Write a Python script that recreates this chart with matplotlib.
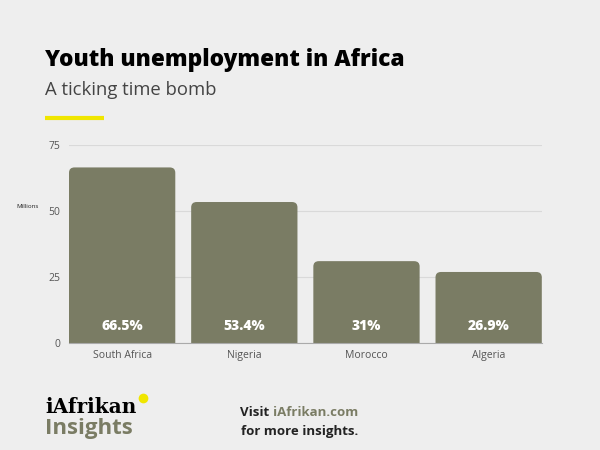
import matplotlib
matplotlib.use("Agg")
import matplotlib.pyplot as plt
from matplotlib.patches import FancyBboxPatch

# youth unemployment data
countries = ["South Africa", "Nigeria", "Morocco", "Algeria"]
rates = [66.5, 53.4, 31, 26.9]
rate_labels = ["66.5%", "53.4%", "31%", "26.9%"]
yticks = [0, 25, 50, 75]

BG = "#eeeeee"
BAR = "#7a7c64"

fig = plt.figure(figsize=(6, 4.5), dpi=100, facecolor=BG)
ax = fig.add_axes([0.115, 0.2378, 0.788, 0.44], facecolor=BG)

bars = ax.bar(range(len(countries)), rates, width=0.87, color=BAR, zorder=2)
# swap the plain bars for ones with rounded tops
for b in bars:
    x, y = b.get_x(), b.get_y()
    w, h = b.get_width(), b.get_height()
    b.set_visible(False)
    p = FancyBboxPatch((x, y - 5), w, h + 5, boxstyle="round,pad=0,rounding_size=0.045",
                       mutation_aspect=45, facecolor=BAR, edgecolor="none", zorder=2)
    ax.add_patch(p)

for i, lab in enumerate(rate_labels):
    ax.annotate(lab, (i, 0), xytext=(0, 12.5), textcoords="offset points",
                ha="center", va="center", color="white", fontsize=10,
                fontweight="heavy", family="Open Sans", zorder=3)

ax.set_xlim(-0.435, 3.435)
ax.set_ylim(0, 75)
ax.set_yticks(yticks)
ax.set_xticks(range(len(countries)))
ax.set_xticklabels(countries)
ax.grid(axis="y", color="#d9d9d9", lw=0.8, zorder=0)
for s in ["top", "right", "left"]:
    ax.spines[s].set_visible(False)
ax.spines["bottom"].set_color("#aaaaaa")
ax.tick_params(length=0, labelsize=7.5, colors="#555555")
ax.tick_params(axis="y", pad=6)
ax.tick_params(axis="x", pad=5)
for t in ax.get_xticklabels() + ax.get_yticklabels():
    t.set_family("Open Sans")

fig.text(0.027, 0.54, "Millions", fontsize=4.5, color="#222222", family="Open Sans",
         ha="left", va="center")

# header
fig.text(0.075, 0.867, "Youth unemployment in Africa", fontsize=16.3, fontweight="heavy",
         family="Open Sans", color="black", ha="left", va="center")
fig.text(0.075, 0.8, "A ticking time bomb", fontsize=13.3, family="Open Sans",
         color="#444444", ha="left", va="center")
fig.add_artist(plt.Line2D([0.075, 0.173], [0.738, 0.738], color="#f0e600", lw=3,
                          solid_capstyle="butt"))

# footer
fig.text(0.075, 0.083, "iAfrikan", fontsize=14.5, fontweight="bold", family="DejaVu Serif",
         color="black", ha="left", va="baseline")
fig.text(0.075, 0.036, "Insights", fontsize=16, fontweight="bold", family="Open Sans",
         color=BAR, ha="left", va="baseline")
fig.add_artist(plt.Line2D([0.239], [0.116], marker="o", markersize=7, color="#f0e600",
                          markeredgecolor="none"))
fig.text(0.40, 0.076, "Visit", fontsize=9.5, fontweight="bold", family="Open Sans",
         color="#222222", ha="left", va="baseline")
fig.text(0.455, 0.076, "iAfrikan.com", fontsize=9.5, fontweight="bold", family="Open Sans",
         color=BAR, ha="left", va="baseline")
fig.text(0.5, 0.034, "for more insights.", fontsize=9.5, fontweight="bold", family="Open Sans",
         color="#222222", ha="center", va="baseline")

fig.savefig("out.png", dpi=100, facecolor=BG)
